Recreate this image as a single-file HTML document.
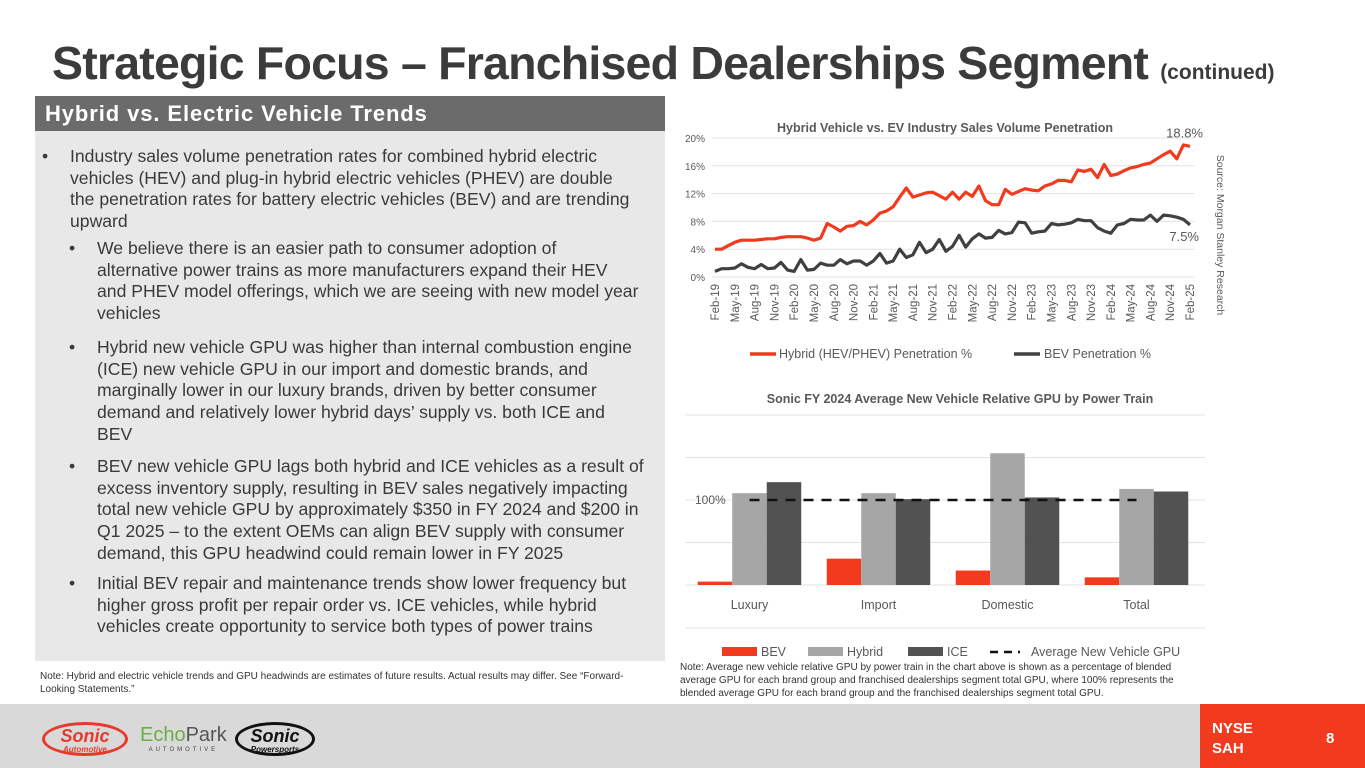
<!DOCTYPE html>
<html><head><meta charset="utf-8">
<style>
*{margin:0;padding:0;box-sizing:border-box}
body{width:1365px;height:768px;overflow:hidden;background:#fff;font-family:"Liberation Sans",Arial,sans-serif;position:relative;color:#404040}
.title{position:absolute;left:52px;top:36px;font-size:46.5px;font-weight:bold;color:#3b3b3b;letter-spacing:-0.8px;white-space:nowrap}
.title small{font-size:21px;letter-spacing:0}
.hdr{position:absolute;left:35px;top:96px;width:630px;height:35px;background:#6b6b6b;color:#fff;font-size:22px;letter-spacing:0.9px;font-weight:bold;padding:5px 0 0 10px;white-space:nowrap}
.panel{position:absolute;left:35px;top:131px;width:630px;height:530px;background:#e8e8e8}
.b{position:absolute;font-size:17.6px;line-height:21.7px;color:#3a3a3a;white-space:nowrap}
.b .dot{position:absolute;left:-28px;top:0}
.note{position:absolute;font-size:10px;line-height:13px;color:#333;white-space:nowrap}
.footer{position:absolute;left:0;top:704px;width:1365px;height:64px;background:#d9d9d9}
.red{position:absolute;left:1200px;top:704px;width:165px;height:64px;background:#f23a1e;color:#fff;font-weight:bold;font-size:15px}
</style></head><body>
<div class="title">Strategic Focus – Franchised Dealerships Segment <small>(continued)</small></div>
<div class="hdr">Hybrid vs. Electric Vehicle Trends</div>
<div class="panel"></div>
<div class="b" style="left:70px;top:146px"><span class="dot">•</span>Industry sales volume penetration rates for combined hybrid electric<br>vehicles (HEV) and plug-in hybrid electric vehicles (PHEV) are double<br>the penetration rates for battery electric vehicles (BEV) and are trending<br>upward</div>
<div class="b" style="left:97px;top:238px"><span class="dot">•</span>We believe there is an easier path to consumer adoption of<br>alternative power trains as more manufacturers expand their HEV<br>and PHEV model offerings, which we are seeing with new model year<br>vehicles</div>
<div class="b" style="left:97px;top:337px"><span class="dot">•</span>Hybrid new vehicle GPU was higher than internal combustion engine<br>(ICE) new vehicle GPU in our import and domestic brands, and<br>marginally lower in our luxury brands, driven by better consumer<br>demand and relatively lower hybrid days’ supply vs. both ICE and<br>BEV</div>
<div class="b" style="left:97px;top:456px"><span class="dot">•</span>BEV new vehicle GPU lags both hybrid and ICE vehicles as a result of<br>excess inventory supply, resulting in BEV sales negatively impacting<br>total new vehicle GPU by approximately $350 in FY 2024 and $200 in<br>Q1 2025 – to the extent OEMs can align BEV supply with consumer<br>demand, this GPU headwind could remain lower in FY 2025</div>
<div class="b" style="left:97px;top:573px"><span class="dot">•</span>Initial BEV repair and maintenance trends show lower frequency but<br>higher gross profit per repair order vs. ICE vehicles, while hybrid<br>vehicles create opportunity to service both types of power trains</div>
<div class="note" style="left:40px;top:670px">Note: Hybrid and electric vehicle trends and GPU headwinds are estimates of future results. Actual results may differ. See “Forward-<br>Looking Statements.”</div>
<div class="note" style="left:680px;top:661px">Note: Average new vehicle relative GPU by power train in the chart above is shown as a percentage of blended<br>average GPU for each brand group and franchised dealerships segment total GPU, where 100% represents the<br>blended average GPU for each brand group and the franchised dealerships segment total GPU.</div>

<svg id="line" width="1365" height="380" style="position:absolute;left:0;top:0"></svg>
<svg id="bar" width="1365" height="300" style="position:absolute;left:0;top:380px"></svg>

<div class="footer">
  <div style="position:absolute;left:42px;top:18px;width:86px;height:34px;border:3px solid #e8392a;border-radius:50%;color:#e8392a;font-weight:bold;font-style:italic;font-size:18px;text-align:center;line-height:22px">Sonic<div style="font-size:8px;line-height:6px">Automotive</div></div>
  <div style="position:absolute;left:140px;top:20px;font-size:20px;color:#6aae45">Echo<span style="color:#555">Park</span><div style="font-size:6px;color:#444;letter-spacing:3px;text-align:center">AUTOMOTIVE</div></div>
  <div style="position:absolute;left:235px;top:18px;width:80px;height:34px;border:3px solid #111;border-radius:50%;color:#111;font-weight:bold;font-style:italic;font-size:18px;text-align:center;line-height:22px">Sonic<div style="font-size:8px;line-height:6px">Powersports</div></div>
</div>
<div class="red">
  <div style="position:absolute;left:12px;top:15px;line-height:20px">NYSE<br>SAH</div>
  <div style="position:absolute;left:126px;top:26px">8</div>
</div>

<script>
const hybridVals=[4.0,4.0,4.5,5.0,5.3,5.3,5.3,5.4,5.5,5.5,5.7,5.8,5.8,5.8,5.6,5.3,5.6,7.7,7.2,6.6,7.3,7.4,8.0,7.5,8.2,9.2,9.5,10.1,11.5,12.8,11.5,11.8,12.1,12.2,11.7,11.2,12.2,11.2,12.2,11.6,13.1,11.0,10.4,10.4,12.6,11.9,12.3,12.7,12.5,12.4,13.1,13.4,13.9,13.9,13.7,15.4,15.2,15.5,14.3,16.2,14.6,14.8,15.3,15.7,15.9,16.2,16.4,17.0,17.6,18.1,17.0,19.0,18.8];
const bevVals=[0.8,1.2,1.2,1.3,1.9,1.4,1.2,1.8,1.2,1.3,2.1,1.0,0.8,2.5,1.0,1.1,2.0,1.7,1.7,2.5,1.9,2.3,2.3,1.7,2.3,3.4,2.0,2.3,4.0,2.8,3.2,5.0,3.5,4.0,5.4,3.7,4.4,6.0,4.3,5.5,6.2,5.6,5.7,6.7,6.2,6.4,7.9,7.8,6.3,6.5,6.6,7.7,7.5,7.6,7.8,8.3,8.1,8.1,7.1,6.6,6.3,7.5,7.7,8.3,8.2,8.2,8.9,8.0,8.9,8.8,8.6,8.3,7.5];
const yTicks=[0,4,8,12,16,20];
const xLabels=["Feb-19","May-19","Aug-19","Nov-19","Feb-20","May-20","Aug-20","Nov-20","Feb-21","May-21","Aug-21","Nov-21","Feb-22","May-22","Aug-22","Nov-22","Feb-23","May-23","Aug-23","Nov-23","Feb-24","May-24","Aug-24","Nov-24","Feb-25"];

const categories=["Luxury","Import","Domestic","Total"];
const bevGpu=[4,31,17,9];
const hybridGpu=[108,108,155,113];
const iceGpu=[121,101,103,110];
const avgGpu=[100,100,100,100];
const barTicks=[0,50,100,150,200];

const NS="http://www.w3.org/2000/svg";
function mk(svg,tag,attrs,text){const e=document.createElementNS(NS,tag);for(const k in attrs)e.setAttribute(k,attrs[k]);if(text!==undefined)e.textContent=text;svg.appendChild(e);return e;}

const L=document.getElementById('line');
const x0=715,x1=1190,yb=277,yt=138;
const lx=i=>x0+(x1-x0)*i/(hybridVals.length-1);
const ly=v=>yb-(yb-yt)*v/20;
let t=mk(L,'text',{x:945,y:132,'font-size':12.5,'font-weight':'bold',fill:'#595959','text-anchor':'middle'},'Hybrid Vehicle vs. EV Industry Sales Volume Penetration');


yTicks.forEach(v=>{
  const g=mk(L,'line',{x1:712,x2:1195,y1:ly(v),y2:ly(v),stroke:'#e3e3e3','stroke-width':1});
  
  
  const l=mk(L,'text',{x:705,y:ly(v)+4,'font-size':10,fill:'#595959','text-anchor':'end'},v+'%');
  
  
});
xLabels.forEach((s,k)=>{
  const x=lx(k*3);
  const l=mk(L,'text',{x:0,y:0,'font-size':11.5,fill:'#595959','text-anchor':'end',transform:`translate(${x+4},284) rotate(-90)`},s);
  
  
});
function path(vals,color,name){
  const d=vals.map((v,i)=>(i?'L':'M')+lx(i).toFixed(1)+','+ly(v).toFixed(1)).join('');
  const p=mk(L,'path',{d,fill:'none',stroke:color,'stroke-width':3.2,'stroke-linejoin':'round'});
  
  
}
path(hybridVals,'#f23a1e','hybrid-line');
path(bevVals,'#404040','bev-line');
t=mk(L,'text',{x:1203,y:ly(hybridVals[hybridVals.length-1])-9,'font-size':13,fill:'#595959','text-anchor':'end'},hybridVals[hybridVals.length-1].toFixed(1)+'%');


t=mk(L,'text',{x:1199,y:ly(bevVals[bevVals.length-1])+16,'font-size':13,fill:'#595959','text-anchor':'end'},bevVals[bevVals.length-1].toFixed(1)+'%');


let lg=mk(L,'line',{x1:750,x2:776,y1:354,y2:354,stroke:'#f23a1e','stroke-width':3.5});


t=mk(L,'text',{x:779,y:358,'font-size':12.5,fill:'#595959'},'Hybrid (HEV/PHEV) Penetration %');


lg=mk(L,'line',{x1:1014,x2:1040,y1:354,y2:354,stroke:'#404040','stroke-width':3.5});


t=mk(L,'text',{x:1044,y:358,'font-size':12.5,fill:'#595959'},'BEV Penetration %');


t=mk(L,'text',{x:0,y:0,'font-size':10.5,fill:'#595959','text-anchor':'middle',transform:'translate(1217,235) rotate(90)'},'Source: Morgan Stanley Research');



const B=document.getElementById('bar');
const by=v=>205-85*v/100;
const groupW=129,bx0=685,bw=34.5;
const cx=i=>bx0+groupW*(i+0.5);
t=mk(B,'text',{x:960,y:23,'font-size':12.5,'font-weight':'bold',fill:'#595959','text-anchor':'middle'},'Sonic FY 2024 Average New Vehicle Relative GPU by Power Train');


barTicks.forEach(v=>{
  const g=mk(B,'line',{x1:685,x2:1205,y1:by(v),y2:by(v),stroke:'#e3e3e3','stroke-width':1});
  
  
});
let ax=mk(B,'line',{x1:685,x2:1205,y1:248,y2:248,stroke:'#e3e3e3','stroke-width':1});


const series=[[bevGpu,'#f23a1e','bev'],[hybridGpu,'#a6a6a6','hybrid'],[iceGpu,'#525252','ice']];
categories.forEach((c,i)=>{
  series.forEach(([vals,col,nm],s)=>{
    const x=cx(i)-1.5*bw+s*bw;
    const r=mk(B,'rect',{x,y:by(vals[i]),width:bw,height:by(0)-by(vals[i]),fill:col});
    
    
  });
  const l=mk(B,'text',{x:cx(i),y:229,'font-size':12.5,fill:'#595959','text-anchor':'middle'},c);
  
  
});
const dl=mk(B,'path',{d:avgGpu.map((v,i)=>(i?'L':'M')+cx(i)+','+by(v)).join(''),fill:'none',stroke:'#111','stroke-width':2.5,'stroke-dasharray':'10,8'});


t=mk(B,'text',{x:695,y:by(100)+4,'font-size':12,fill:'#595959'},'100%');


const legItems=[['#f23a1e','BEV',722,'legend-bev-bar'],['#a6a6a6','Hybrid',808,'legend-hybrid-bar'],['#525252','ICE',908,'legend-ice-bar']];
legItems.forEach(([col,lab,x,nm])=>{
  const r=mk(B,'rect',{x,y:267,width:35,height:9,fill:col});
  
  
  const l=mk(B,'text',{x:x+39,y:276,'font-size':12.5,fill:'#595959'},lab);
  
  
});
lg=mk(B,'line',{x1:990,x2:1020,y1:272,y2:272,stroke:'#111','stroke-width':2.5,'stroke-dasharray':'8,6'});


t=mk(B,'text',{x:1031,y:276,'font-size':12.5,fill:'#595959'},'Average New Vehicle GPU');


</script>
</body></html>
